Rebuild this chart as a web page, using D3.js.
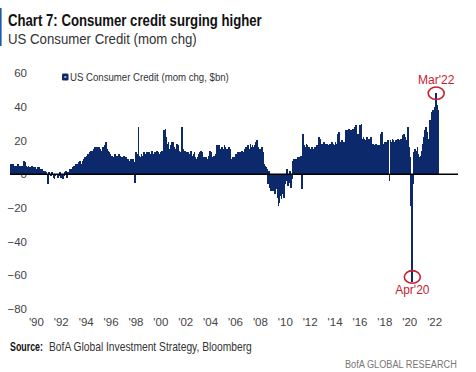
<!DOCTYPE html>
<html><head><meta charset="utf-8">
<script src="https://cdn.jsdelivr.net/npm/d3@7"></script>
<style>html,body{margin:0;padding:0;background:#fff;} svg{display:block;}</style>
</head><body>
<svg id="c" width="476" height="372"></svg>
<script>
// Monthly change in US consumer credit, $bn, Jan 1988 onward
const startYear = 1988;
const creditChange = [
  6,5,6,5,4,5,5,6,4,5,5,4,            // 1988
  5,8,7,5,4,5,4,3,5,4,3,4,            // 1989
  3,2,4,4,3,2,3,1,2,2,1,0,            // 1990
  -6,1,0,-1,1,-2,-3,-1,0,-2,-1,1,     // 1991
  -2,0,-3,-1,1,2,-2,1,0,3,2,3,        // 1992
  4,5,3,6,5,6,7,8,6,8,9,10,           // 1993
  10,11,12,11,13,14,13,14,15,16,15,16,// 1994
  15,16,15,14,14,16,15,17,19,15,14,13,// 1995
  12,11,11,10,12,11,10,11,12,11,10,10,// 1996
  9,11,6,10,8,9,8,7,9,8,9,7,          // 1997
  -5,13,12,28,11,10,12,11,13,12,11,13,// 1998
  11,13,12,11,14,12,11,13,12,14,13,12,// 1999
  12,13,14,13,26,27,22,18,19,15,17,19,// 2000
  19,16,15,14,18,17,14,13,11,28,15,13,// 2001
  14,13,12,13,11,12,14,11,12,13,10,9, // 2002
  10,12,13,14,13,9,10,9,10,8,9,11,    // 2003
  14,13,10,9,11,10,12,17,16,17,15,16, // 2004
  16,15,17,16,15,14,16,15,9,8,10,9,   // 2005
  10,12,11,13,12,13,11,14,12,13,15,16,// 2006
  16,17,15,18,16,17,16,17,19,20,16,15,// 2007
  15,14,16,13,6,5,4,3,-6,2,-8,-10,    // 2008
  -8,-10,-7,-12,-9,-14,-19,-17,-13,-15,-12,-14, // 2009
  -6,-4,3,-7,-5,2,-8,-3,8,9,8,9,      // 2010
  9,10,10,9,11,-9,24,17,16,18,17,16,  // 2011
  16,15,16,15,14,16,15,17,16,22,21,15,// 2012
  18,17,19,18,17,18,17,16,18,17,19,18,// 2013
  17,19,18,24,25,19,18,20,19,18,19,26,// 2014
  25,26,27,26,25,26,27,26,28,29,24,24,// 2015
  23,29,30,21,22,21,20,22,21,20,21,22,// 2016
  17,18,17,16,18,17,16,17,16,24,25,18,// 2017
  18,19,17,19,20,-4,20,19,21,20,19,20,// 2018
  20,21,19,20,21,20,23,24,22,19,20,28,// 2019
  16,10,-19,-64,-6,13,15,14,16,12,10,11, // 2020
  14,18,22,26,28,25,19,21,32,31,37,38,// 2021
  38,40,48,41,38                      // 2022
];
const yTicks = [-80,-60,-40,-20,0,20,40,60];
const xTickYears = [1990,1992,1994,1996,1998,2000,2002,2004,2006,2008,2010,2012,2014,2016,2018,2020,2022];
const annotations = [
  {label: "Mar'22", year: 2022, month: 2, circleValue: 48, textAbove: true},
  {label: "Apr'20", year: 2020, month: 3, circleValue: -61, textAbove: false}
];
const titleText = "Chart 7: Consumer credit surging higher";
const subtitleText = "US Consumer Credit (mom chg)";
const legendText = "US Consumer Credit (mom chg, $bn)";
const sourceLabel = "Source:";
const sourceText = "BofA Global Investment Strategy, Bloomberg";
const footerText = "BofA GLOBAL RESEARCH";

const FONT = "'Liberation Sans Narrow','Liberation Sans',Arial,sans-serif";
const NAVY = "#0c2a6b";
const RED = "#c8202f";

const svg = d3.select("#c");
const n = creditChange.length;
const x0 = 10, monthW = 1.037;
const x = d3.scaleBand().domain(d3.range(n)).range([x0, x0 + n * monthW]).padding(0);
const xt = d3.scaleTime().domain([new Date(startYear, 0, 1), new Date(startYear, n, 1)]).range([x0 + 1, x0 + 1 + n * monthW]);
const y = d3.scaleLinear().domain([-80, 60]).range([309, 73]);

// text placed at (px,py) and horizontally squeezed to a target width
function squeezedText(str, px, py, width, attrs) {
  const g = svg.append("g").attr("transform", `translate(${px},${py})`);
  const t = g.append("text").text(str).attr("font-family", FONT);
  Object.entries(attrs).forEach(([k, v]) => t.attr(k, v));
  const len = t.node().getComputedTextLength();
  t.attr("transform", `scale(${width / len},1)`);
  return t;
}

// header
svg.append("rect").attr("x", 0).attr("y", 8).attr("width", 1.6).attr("height", 38).attr("fill", "#1d5aa8");
squeezedText(titleText, 8, 25.5, 254, {"font-weight": "bold", "font-size": 16, fill: "#111"});
squeezedText(subtitleText, 8, 43.5, 189, {"font-size": 15, fill: "#333"});

// legend
svg.append("rect").attr("x", 62).attr("y", 73.5).attr("width", 6.5).attr("height", 7).attr("rx", 1.3).attr("fill", NAVY);
svg.append("rect").attr("x", 64.3).attr("y", 76).attr("width", 2).attr("height", 2).attr("fill", "#9fb0d6");
squeezedText(legendText, 70, 80.5, 159, {"font-size": 11.5, fill: "#333"});

// y axis
const yAxis = svg.append("g").attr("transform", "translate(27,0)")
  .call(d3.axisLeft(y).tickValues(yTicks).tickSize(0).tickPadding(0).tickFormat(d3.format("d")));
yAxis.select(".domain").remove();
yAxis.selectAll("text").attr("font-family", FONT).attr("font-size", 11.5).attr("fill", "#444");

// bars
svg.append("g").attr("shape-rendering", "crispEdges").selectAll("rect").data(creditChange).join("rect")
  .attr("x", (d, i) => x(i))
  .attr("width", x.bandwidth() + 0.8)
  .attr("y", d => y(Math.max(0, d)))
  .attr("height", d => Math.abs(y(d) - y(0)))
  .attr("fill", NAVY);

// zero line
svg.append("line").attr("x1", 10).attr("x2", 458).attr("y1", y(0)).attr("y2", y(0))
  .attr("stroke", "#000").attr("stroke-width", 1.5);

// x axis
const xAxis = svg.append("g").attr("transform", "translate(0,318)")
  .call(d3.axisBottom(xt).tickValues(xTickYears.map(yr => new Date(yr, 0, 1)))
    .tickSize(0).tickPadding(0).tickFormat(d3.timeFormat("'%y")));
xAxis.select(".domain").remove();
xAxis.selectAll("text").attr("font-family", FONT).attr("font-size", 11.5).attr("fill", "#444").attr("dy", "0.71em");

// annotations
annotations.forEach(a => {
  const i = (a.year - startYear) * 12 + a.month;
  const cx = x(i) + x.bandwidth() / 2 + 0.5;
  const cy = y(a.circleValue);
  svg.append("ellipse").attr("cx", cx).attr("cy", cy).attr("rx", 8).attr("ry", 6.3)
    .attr("fill", "none").attr("stroke", RED).attr("stroke-width", 1.6);
  svg.append("text").attr("x", cx).attr("y", a.textAbove ? cy - 9.5 : cy + 17)
    .attr("text-anchor", "middle").text(a.label)
    .attr("font-family", FONT).attr("font-size", 12).attr("fill", RED);
});

// source & footer
squeezedText(sourceLabel, 10, 351, 33, {"font-size": 12, "font-weight": "bold", fill: "#111"});
squeezedText(sourceText, 49, 351, 203, {"font-size": 12, fill: "#333"});
squeezedText(footerText, 345, 367.5, 112, {"font-size": 11.5, fill: "#777"});
</script>
</body></html>
